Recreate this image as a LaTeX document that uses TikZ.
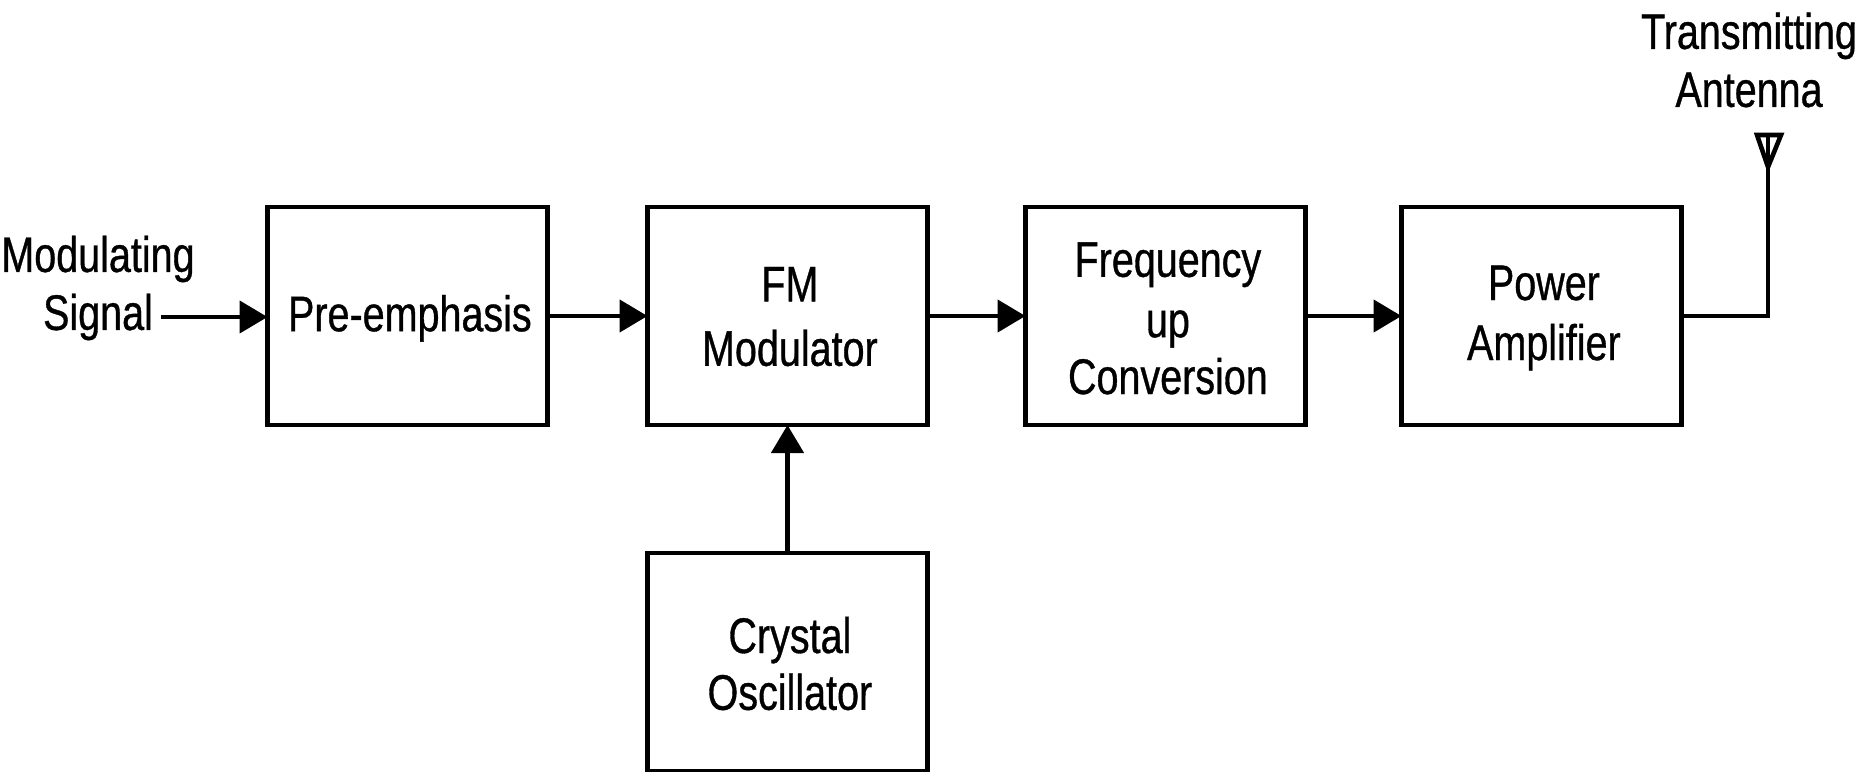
\documentclass[tikz,border=0pt]{standalone}
\usepackage{fontspec}
\setmainfont[FakeStretch=0.79, FakeBold=0.7]{Liberation Sans}
\usetikzlibrary{shapes,arrows.meta,positioning}
\newcommand{\blocktext}[2][-1.8pt]{\raisebox{#1}[\height][\depth]{\hspace{2.4pt}\begin{tabular}{@{}c@{}}#2\end{tabular}}}

\begin{document}
\begin{tikzpicture}[x=0.5pt, y=-0.5pt, >={Stealth[inset=0pt, length=14pt, width=16pt]}, line width=2.3pt,
    block/.style={rectangle, draw, outer sep=0pt, minimum width=140pt, minimum height=109pt, font=\fontsize{25}{29}\selectfont},
    caption/.style={align=center, inner sep=0pt, font=\fontsize{25}{29}\selectfont}]
    \useasboundingbox (0,0) rectangle (1872,771);

    % Nodes
    \node (pre) [block] at (407.5,316) {\blocktext{Pre-emphasis}};
    \node (fm) [block, right=50pt of pre] {\blocktext[-3pt]{FM\\[3.2pt]Modulator}};
    \node (freq) [block, right=49pt of fm] {\blocktext[-3.9pt]{Frequency\\[1.2pt]up\\[-0.6pt]Conversion}};
    \node (power) [block, right=48pt of freq] {\blocktext[-1.2pt]{Power\\[1pt]Amplifier}};
    \node (crystal) [block, below=64pt of fm] {\blocktext[-3.9pt]{Crystal\\[-0.6pt]Oscillator}};
    \node (input) [caption] at (98,288) {Modulating\\Signal};
    \node (antenna) [caption] at (1749,60) {Transmitting\\Antenna};

    % Antenna symbol and free ends
    \coordinate (sig_start) at (161,317);
    \coordinate (ant_apex) at (1768,167);
    \coordinate (ant_top) at (1768,135);
    \coordinate (ant_left) at (1757,135);
    \coordinate (ant_right) at (1781,135);
    \draw[line join=miter] (ant_apex) -- (ant_left) -- (ant_right) -- cycle;
    \draw (ant_apex) -- (ant_top);

    % Arrows
    \draw[->] (sig_start) -- (sig_start -| pre.west);
    \draw[->] (pre) -- (fm);
    \draw[->] (fm) -- (freq);
    \draw[->] (freq) -- (power);
    \draw[->] (crystal) -- (fm);
    \draw (power.east) -| (ant_apex);
\end{tikzpicture}
\end{document}
